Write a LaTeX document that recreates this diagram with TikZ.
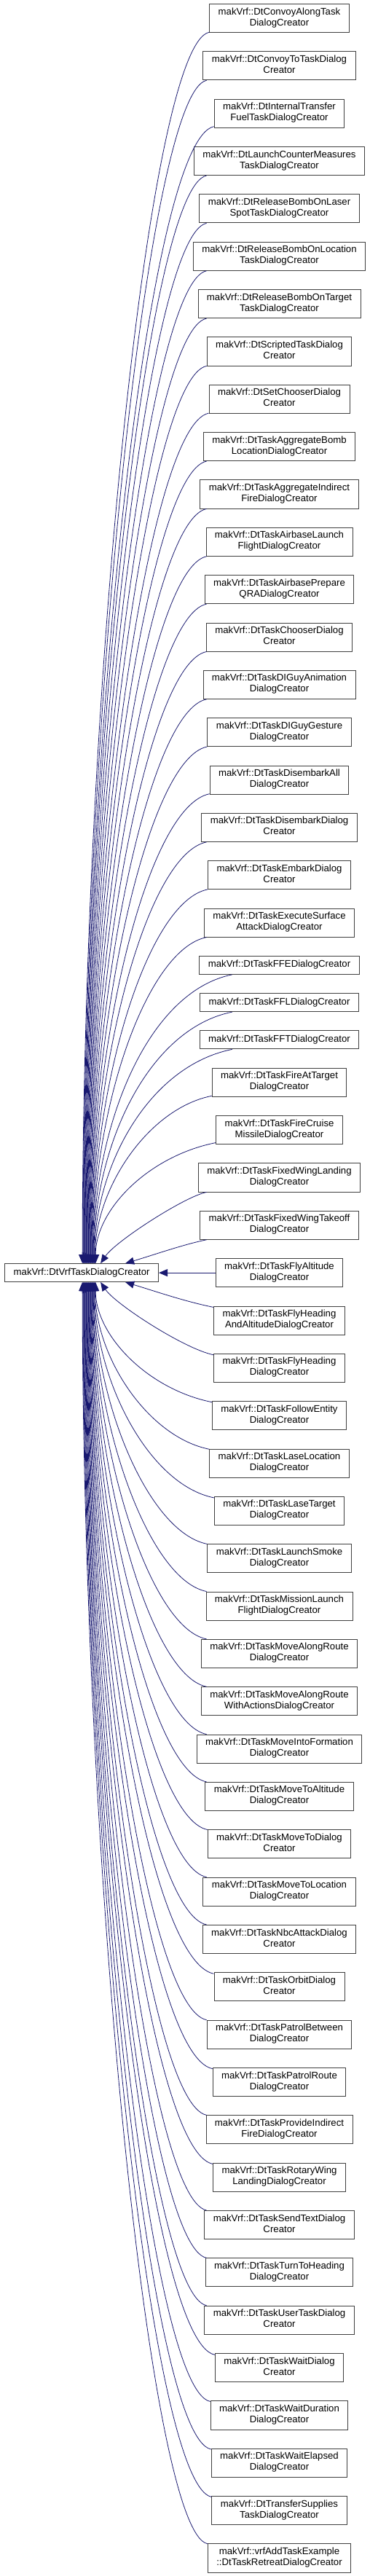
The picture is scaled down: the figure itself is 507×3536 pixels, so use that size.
\documentclass[tikz,border=0pt]{standalone}
\usepackage{fontspec}
\setmainfont{Liberation Sans}
\usepackage{xcolor}
\usepackage{tikz}
\usetikzlibrary{positioning,arrows.meta}

\definecolor{edgeblue}{RGB}{25,25,112}
\definecolor{boxline}{RGB}{64,64,64}

\tikzset{
  cls/.style={draw=boxline, line width=0.9pt, fill=white, align=center,
    font=\fontsize{13.2}{15}\selectfont, inner xsep=12pt, inner ysep=5pt,
    execute at begin node=\strut, execute at end node=\strut},
  inh/.style={draw=edgeblue, line width=0.8pt,
    arrows={Triangle[length=12pt,width=10pt]-}}
}

\begin{document}
\begin{tikzpicture}[x=1pt,y=1pt]
    \useasboundingbox (0,0) rectangle (507,-3536);

    % derived classes, top to bottom
    \node[cls] (c1) at (383.5,-25) {makVrf::DtConvoyAlongTask\\DialogCreator};
    \foreach \t [count=\i from 2] in {
        {makVrf::DtConvoyToTaskDialog\\Creator},
        {makVrf::DtInternalTransfer\\FuelTaskDialogCreator},
        {makVrf::DtLaunchCounterMeasures\\TaskDialogCreator},
        {makVrf::DtReleaseBombOnLaser\\SpotTaskDialogCreator},
        {makVrf::DtReleaseBombOnLocation\\TaskDialogCreator},
        {makVrf::DtReleaseBombOnTarget\\TaskDialogCreator},
        {makVrf::DtScriptedTaskDialog\\Creator},
        {makVrf::DtSetChooserDialog\\Creator},
        {makVrf::DtTaskAggregateBomb\\LocationDialogCreator},
        {makVrf::DtTaskAggregateIndirect\\FireDialogCreator},
        {makVrf::DtTaskAirbaseLaunch\\FlightDialogCreator},
        {makVrf::DtTaskAirbasePrepare\\QRADialogCreator},
        {makVrf::DtTaskChooserDialog\\Creator},
        {makVrf::DtTaskDIGuyAnimation\\DialogCreator},
        {makVrf::DtTaskDIGuyGesture\\DialogCreator},
        {makVrf::DtTaskDisembarkAll\\DialogCreator},
        {makVrf::DtTaskDisembarkDialog\\Creator},
        {makVrf::DtTaskEmbarkDialog\\Creator},
        {makVrf::DtTaskExecuteSurface\\AttackDialogCreator},
        {makVrf::DtTaskFFEDialogCreator},
        {makVrf::DtTaskFFLDialogCreator},
        {makVrf::DtTaskFFTDialogCreator},
        {makVrf::DtTaskFireAtTarget\\DialogCreator},
        {makVrf::DtTaskFireCruise\\MissileDialogCreator},
        {makVrf::DtTaskFixedWingLanding\\DialogCreator},
        {makVrf::DtTaskFixedWingTakeoff\\DialogCreator},
        {makVrf::DtTaskFlyAltitude\\DialogCreator},
        {makVrf::DtTaskFlyHeading\\AndAltitudeDialogCreator},
        {makVrf::DtTaskFlyHeading\\DialogCreator},
        {makVrf::DtTaskFollowEntity\\DialogCreator},
        {makVrf::DtTaskLaseLocation\\DialogCreator},
        {makVrf::DtTaskLaseTarget\\DialogCreator},
        {makVrf::DtTaskLaunchSmoke\\DialogCreator},
        {makVrf::DtTaskMissionLaunch\\FlightDialogCreator},
        {makVrf::DtTaskMoveAlongRoute\\DialogCreator},
        {makVrf::DtTaskMoveAlongRoute\\WithActionsDialogCreator},
        {makVrf::DtTaskMoveIntoFormation\\DialogCreator},
        {makVrf::DtTaskMoveToAltitude\\DialogCreator},
        {makVrf::DtTaskMoveToDialog\\Creator},
        {makVrf::DtTaskMoveToLocation\\DialogCreator},
        {makVrf::DtTaskNbcAttackDialog\\Creator},
        {makVrf::DtTaskOrbitDialog\\Creator},
        {makVrf::DtTaskPatrolBetween\\DialogCreator},
        {makVrf::DtTaskPatrolRoute\\DialogCreator},
        {makVrf::DtTaskProvideIndirect\\FireDialogCreator},
        {makVrf::DtTaskRotaryWing\\LandingDialogCreator},
        {makVrf::DtTaskSendTextDialog\\Creator},
        {makVrf::DtTaskTurnToHeading\\DialogCreator},
        {makVrf::DtTaskUserTaskDialog\\Creator},
        {makVrf::DtTaskWaitDialog\\Creator},
        {makVrf::DtTaskWaitDuration\\DialogCreator},
        {makVrf::DtTaskWaitElapsed\\DialogCreator},
        {makVrf::DtTransferSupplies\\TaskDialogCreator},
        {makVrf::vrfAddTaskExample\\::DtTaskRetreatDialogCreator}}
    {
        \pgfmathtruncatemacro{\j}{\i-1}
        \node[cls, below=25.38pt of c\j] (c\i) {\t};
    }

    % base class, level with c28
    \node[cls, anchor=east] (main) at (218,0 |- c28) {makVrf::DtVrfTaskDialogCreator};

    \draw[inh] (main) -- (c28);

    % edges from above
    \foreach \i in {1,...,27}{
        \pgfmathtruncatemacro{\k}{28-\i}
        \pgfmathsetmacro{\h}{ifthenelse(\k<3, ifthenelse(\k==1,12,30), 0.45*(65.35*\k-32.7))}
        \pgfmathsetmacro{\ax}{ifthenelse(\k==1,40,ifthenelse(\k==2,20,0))}
        \pgfmathsetmacro{\tx}{ifthenelse(\k==1,60,ifthenelse(\k==2,26,max(0,19-0.75*(\k-3))))}
        \pgfmathsetmacro{\len}{ifthenelse(\k<3,130,180)}
        \pgfmathsetmacro{\lv}{0.2*\len}
        \draw[inh] ([xshift=\tx pt]main.north) .. controls +(\ax,\h) and +(-\len,-\lv) .. (c\i);
    }

    % edges from below
    \foreach \i in {29,...,55}{
        \pgfmathtruncatemacro{\k}{\i-28}
        \pgfmathsetmacro{\h}{ifthenelse(\k<3, ifthenelse(\k==1,12,30), 0.45*(65.35*\k-32.7))}
        \pgfmathsetmacro{\ax}{ifthenelse(\k==1,40,ifthenelse(\k==2,20,0))}
        \pgfmathsetmacro{\tx}{ifthenelse(\k==1,60,ifthenelse(\k==2,26,max(0,19-0.75*(\k-3))))}
        \pgfmathsetmacro{\len}{ifthenelse(\k<3,130,180)}
        \pgfmathsetmacro{\lv}{0.2*\len}
        \draw[inh] ([xshift=\tx pt]main.south) .. controls +(\ax,-\h) and +(-\len,\lv) .. (c\i);
    }
\end{tikzpicture}
\end{document}
